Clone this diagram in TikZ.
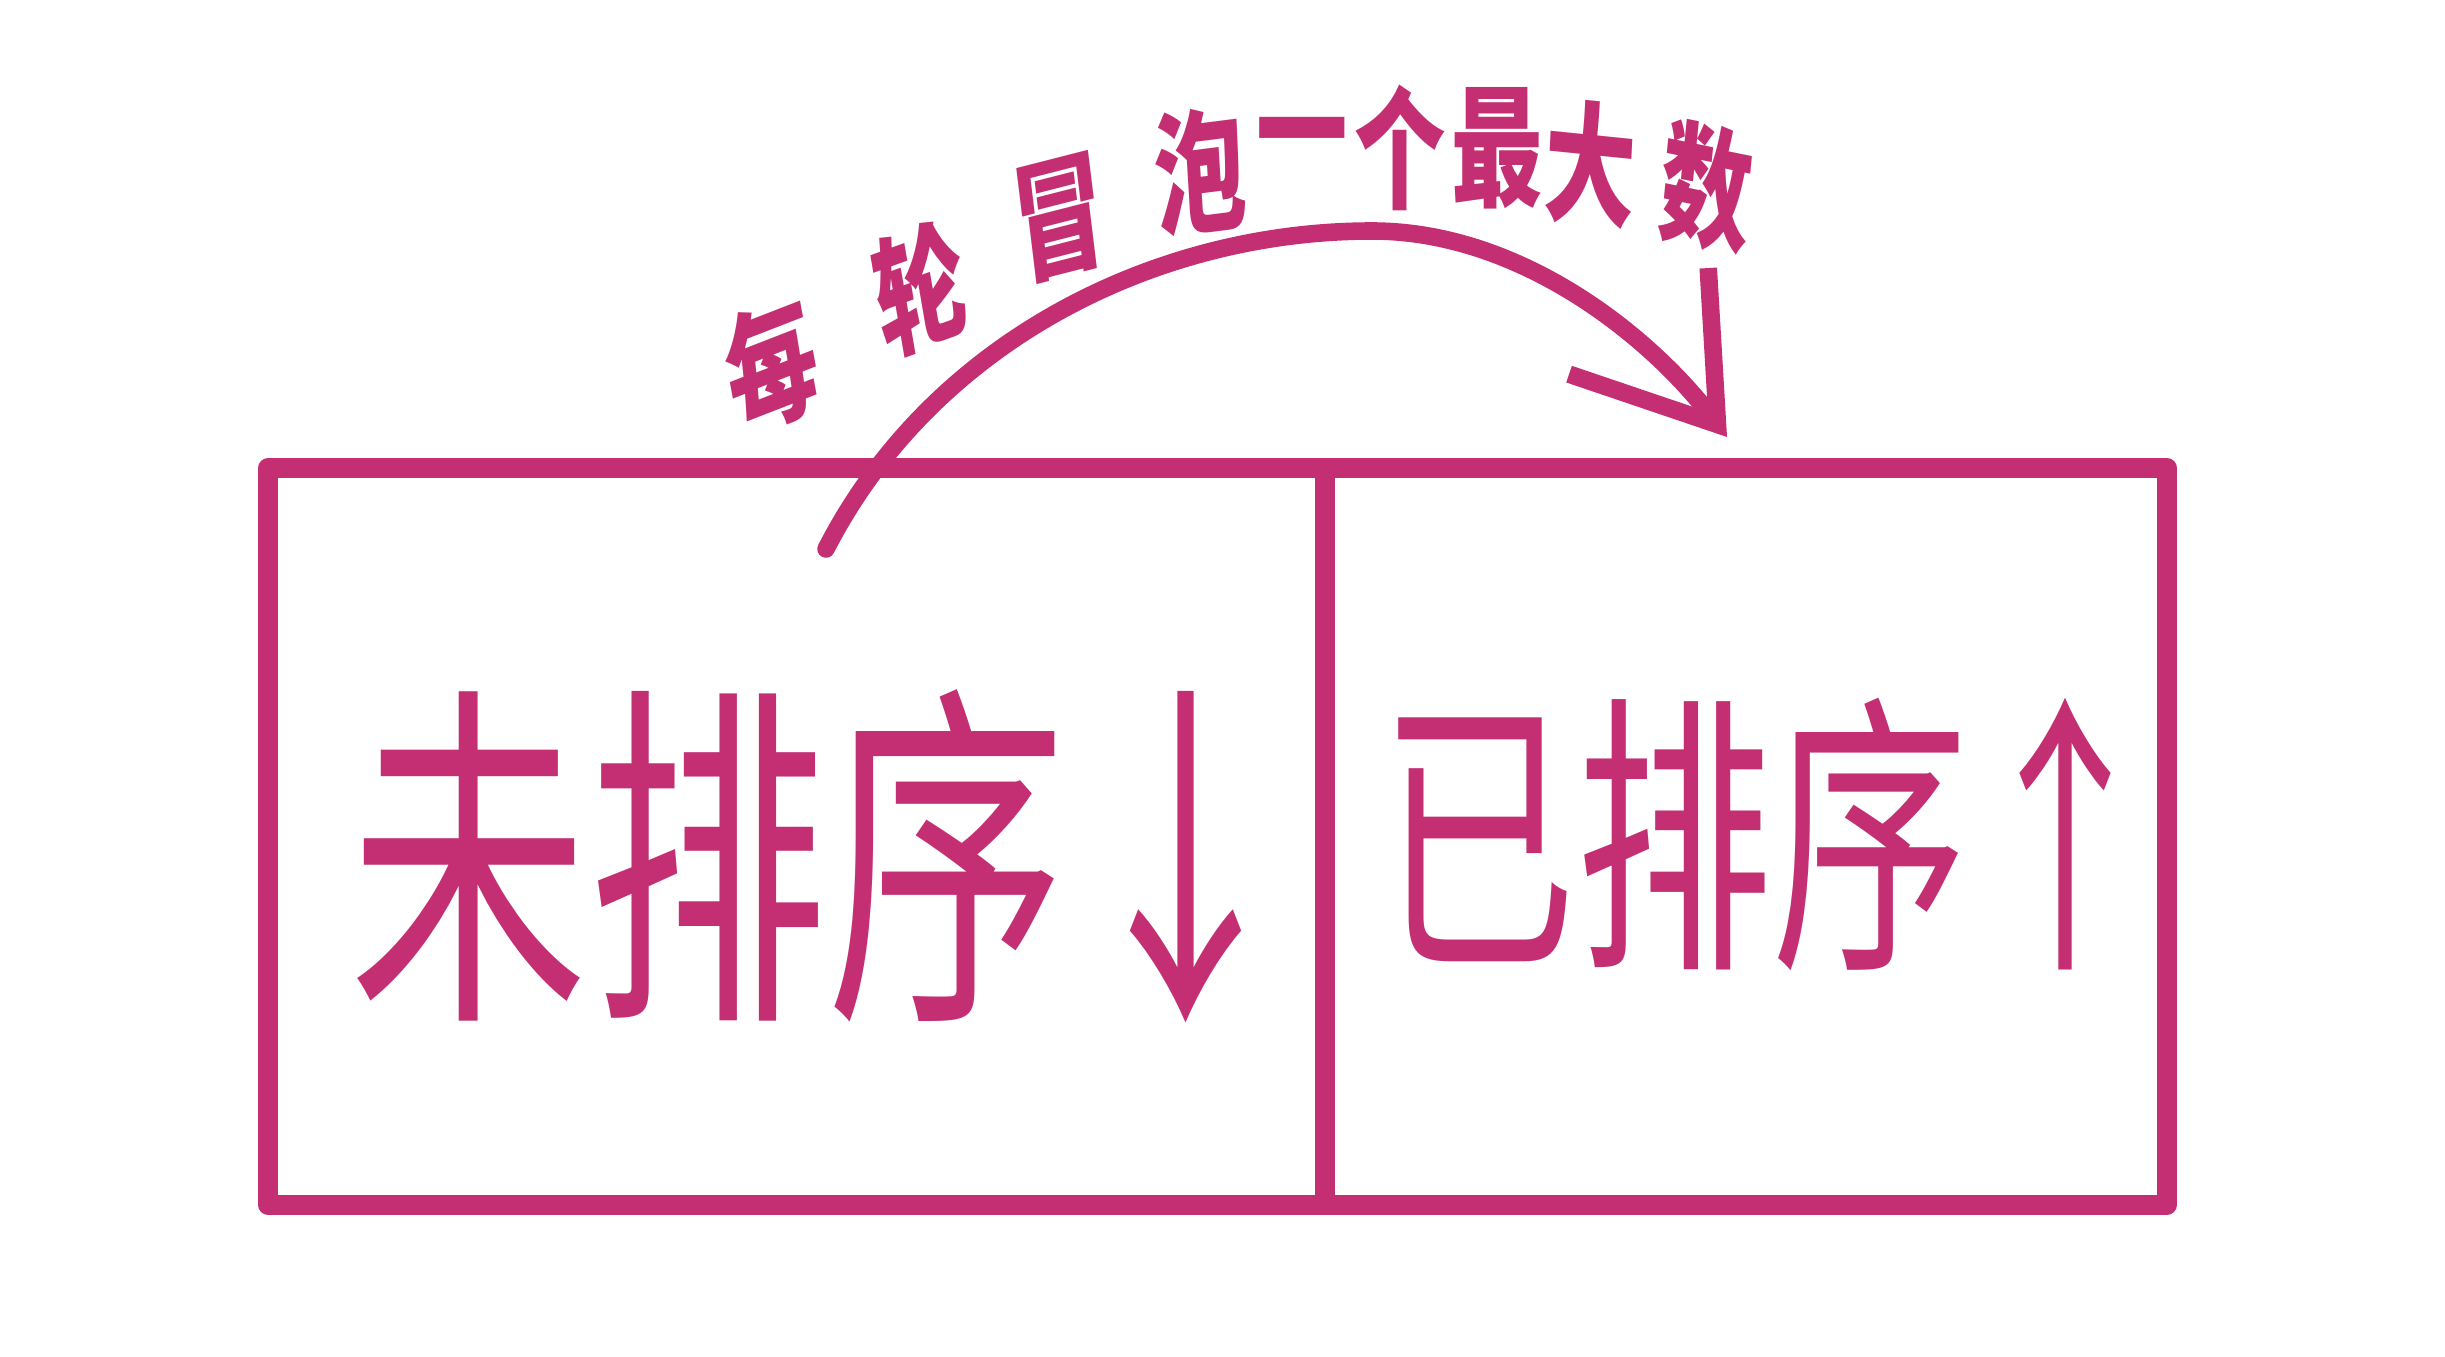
\documentclass[tikz,border=0pt]{standalone}
\usepackage{fontspec}
\usepackage{tikz}
\usetikzlibrary{arrows.meta,calc}
\newfontfamily\cjk{Noto Sans CJK SC}
\definecolor{pen}{HTML}{C32F72}

\begin{document}
\begin{tikzpicture}[
  pane/.style={draw=pen, line width=5.5pt, line join=round, minimum height=7.37cm, inner sep=0pt, outer sep=0pt},
  tag/.style={text=pen, font=\cjk\fontsize{68}{76}\selectfont, yscale=1.5, transform shape, inner sep=0pt},
  arcword/.style={text=pen, font=\cjk\bfseries\fontsize{26}{32}\selectfont, yscale=1.45, transform shape, inner sep=0pt},
  bubble/.style={-{Straight Barb[length=1.3cm, width=1.75cm, line width=5pt]}, line width=5pt, draw=pen, line cap=round, line join=round}
]
  \useasboundingbox (0,0) rectangle (24.45,13.56);

  \node[pane, minimum width=10.57cm, anchor=south west] (unsorted) at (2.68,1.51) {};
  \node[pane, minimum width=8.42cm, anchor=south west] (sorted) at (unsorted.south east) {};

  \node[tag] (unsortedtxt) at (8.27,5.0) {未排序↓};
  \node[tag, scale=0.82] (sortedtxt) at (17.72,5.22) {已排序↑};

  % arc from the unsorted part over to the sorted part
  \coordinate (src) at (8.26,8.07);
  \coordinate (top) at (13.72,11.25);
  \coordinate (dst) at (17.27,9.19);
  \draw[bubble] (src) .. controls (9.3,10.1) and (11.5,11.25) .. (top)
                      .. controls (15.2,11.25) and (16.5,10.2) .. (dst);

  \foreach \ch/\x/\y/\r [count=\i] in {每/7.72/9.90/15, 轮/9.20/10.68/14, 冒/10.60/11.38/10, 泡/12.00/11.85/5,
      一/13.02/12.08/0, 个/14.00/12.08/0, 最/14.97/12.08/0, 大/15.90/11.92/-4, 数/17.07/11.69/-8}
    \node[arcword, rotate=\r] (w\i) at (\x,\y) {\ch};
\end{tikzpicture}
\end{document}
